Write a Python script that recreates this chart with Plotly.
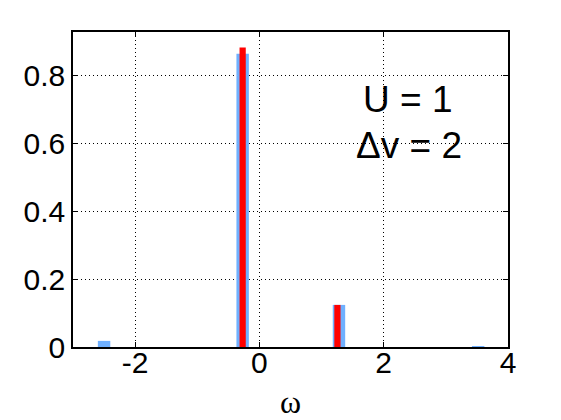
import plotly.graph_objects as go

# Data
blue_x = [-2.5, -0.27, 1.28, 3.52]
blue_y = [0.018, 0.864, 0.124, 0.002]
red_x = [-0.27, 1.255]
red_y = [0.882, 0.124]
x_ticks = [-2, 0, 2, 4]
y_ticks = [0, 0.2, 0.4, 0.6, 0.8]
label_lines = ["U = 1", "Δv = 2"]

fig = go.Figure()
fig.add_trace(go.Bar(x=blue_x, y=blue_y, width=0.2, marker=dict(color="#6FB0FF", line=dict(width=0)), showlegend=False))
fig.add_trace(go.Bar(x=red_x, y=red_y, width=0.1, marker=dict(color="#FF0000", line=dict(width=0)), showlegend=False))

fig.update_layout(
    width=561, height=420,
    margin=dict(l=73, r=53, t=32, b=73, autoexpand=False),
    paper_bgcolor="white", plot_bgcolor="white",
    barmode="overlay",
    font=dict(family="Liberation Sans, Arial", size=30, color="black"),
)
fig.update_xaxes(
    range=[-3, 4], tickvals=x_ticks, ticktext=[str(v) if v >= 0 else "-" + str(-v) for v in x_ticks],
    showline=True, linecolor="black", linewidth=1.5, mirror="ticks",
    ticks="inside", ticklen=5, tickcolor="black", automargin=False,
    ticklabelstandoff=-12,
    showgrid=True, gridcolor="black", gridwidth=1, griddash="1px,3px",
    zeroline=False,
    title=dict(text="ω", font=dict(family="Liberation Serif, Times New Roman", size=32), standoff=14),
)
fig.update_yaxes(
    range=[0, 0.928], tickvals=y_ticks, ticktext=["0", "0.2", "0.4", "0.6", "0.8"],
    showline=True, linecolor="black", linewidth=1.5, mirror="ticks",
    ticks="inside", ticklen=5, tickcolor="black", automargin=False,
    showgrid=True, gridcolor="black", gridwidth=1, griddash="1px,3px",
    zeroline=False,
)
fig.add_annotation(x=2.39, y=0.729, text=label_lines[0], showarrow=False, font=dict(size=37))
fig.add_annotation(x=2.41, y=0.595, text=label_lines[1], showarrow=False, font=dict(size=37))

fig.write_html("out.html", config={"displayModeBar": False},
               post_script="document.body.style.margin='0';document.body.style.padding='0';")
